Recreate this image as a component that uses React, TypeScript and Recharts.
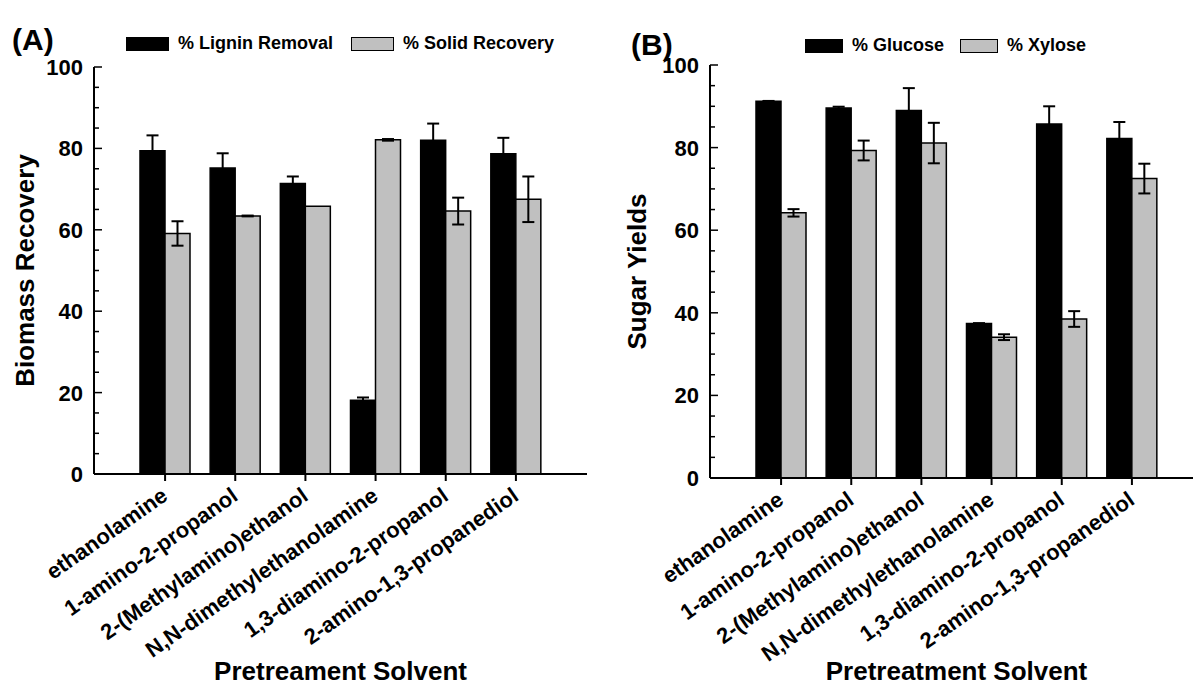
import React from 'react';
import {
  BarChart,
  Bar,
  XAxis,
  YAxis,
  ErrorBar,
  Legend,
} from 'recharts';

const solvents = [
  'ethanolamine',
  '1-amino-2-propanol',
  '2-(Methylamino)ethanol',
  'N,N-dimethylethanolamine',
  '1,3-diamino-2-propanol',
  '2-amino-1,3-propanediol',
];

// panel A
const ligninRemoval = [79.4, 75.2, 71.4, 18.1, 82.0, 78.7];
const ligninErr = [3.8, 3.6, 1.7, 0.7, 4.1, 3.9];
const solidRecovery = [59.1, 63.4, 65.8, 82.1, 64.6, 67.5];
const solidErr = [3.0, 0.1, 0, 0.2, 3.3, 5.6];

// panel B
const glucose = [91.2, 89.6, 89.0, 37.4, 85.7, 82.2];
const glucoseErr = [0.1, 0.3, 5.4, 0.1, 4.3, 4.0];
const xylose = [64.2, 79.3, 81.1, 34.1, 38.5, 72.5];
const xyloseErr = [0.9, 2.4, 4.9, 0.7, 1.9, 3.6];

const yTicks = [0, 5, 10, 15, 20, 25, 30, 35, 40, 45, 50, 55, 60, 65, 70, 75, 80, 85, 90, 95, 100];

const dataA = solvents.map((name, i) => ({
  name,
  lignin: ligninRemoval[i],
  ligninErr: ligninErr[i],
  solid: solidRecovery[i],
  solidErr: solidErr[i],
}));

const dataB = solvents.map((name, i) => ({
  name,
  glucose: glucose[i],
  glucoseErr: glucoseErr[i],
  xylose: xylose[i],
  xyloseErr: xyloseErr[i],
}));

const FONT = '"Liberation Sans", Arial, sans-serif';
const GREY = '#c0c0c0';

const YTick = (props: any) => {
  const { x, y, payload } = props;
  const major = payload.value % 20 === 0;
  return (
    <g>
      <line x1={x} x2={x + (major ? 8 : 5)} y1={y} y2={y} stroke="#000" strokeWidth={1.5} />
      {major && (
        <text x={x - 11} y={y} dy="0.36em" textAnchor="end" fontFamily={FONT} fontWeight="bold" fontSize={22} fill="#000">
          {payload.value}
        </text>
      )}
    </g>
  );
};

const XTick = (props: any) => {
  const { x, y, payload } = props;
  const ax = x + 4;
  const ay = y + 18;
  return (
    <text
      x={ax}
      y={ay}
      textAnchor="end"
      transform={`rotate(-35, ${ax}, ${ay})`}
      fontFamily={FONT}
      fontWeight="bold"
      fontSize={22}
      fill="#000"
    >
      {payload.value}
    </text>
  );
};

const makeLegend = (items: { label: string; color: string }[], swatchW: number, gap: number) => () => (
  <div style={{ display: 'flex', alignItems: 'center', fontFamily: FONT, fontWeight: 'bold', fontSize: 18, whiteSpace: 'nowrap' }}>
    {items.map((it, i) => (
      <div key={i} style={{ display: 'flex', alignItems: 'center', marginRight: gap }}>
        <div style={{ width: swatchW, height: 12, background: it.color, border: '1.5px solid #000', marginRight: 9 }} />
        <span>{it.label}</span>
      </div>
    ))}
  </div>
);

const legendA = makeLegend(
  [
    { label: '% Lignin Removal', color: '#000' },
    { label: '% Solid Recovery', color: GREY },
  ],
  41,
  18
);

const legendB = makeLegend(
  [
    { label: '% Glucose', color: '#000' },
    { label: '% Xylose', color: GREY },
  ],
  36,
  16
);

const axisLine = { stroke: '#000', strokeWidth: 2 };
const titleStyle = { fontFamily: FONT, fontWeight: 'bold', fontSize: 26, fill: '#000' };

const Panel = ({ data, keys, errs, yTitle, xTitle, width, top, bottomH, yWidth, yDx, legend, legendPos }: any) => (
  <BarChart
    width={width}
    height={688}
    data={data}
    margin={{ top, right: width - yWidth - 493, bottom: 0, left: 0 }}
    barGap={0}
    barSize={25}
  >
    <XAxis
      dataKey="name"
      interval={0}
      padding={{ left: 36, right: 36 }}
      height={bottomH}
      axisLine={axisLine}
      tickLine={{ stroke: '#000', strokeWidth: 2 }}
      tickSize={7}
      tickMargin={0}
      tick={<XTick />}
      label={{ value: xTitle, position: 'insideBottom', offset: 8, ...titleStyle }}
    />
    <XAxis xAxisId="top" orientation="top" height={0} tick={false} tickLine={false} axisLine={axisLine} />
    <YAxis
      domain={[0, 100]}
      ticks={yTicks}
      interval={0}
      width={yWidth}
      axisLine={axisLine}
      tickLine={false}
      tickSize={0}
      tickMargin={0}
      tick={<YTick />}
      label={{ value: yTitle, angle: -90, position: 'center', dx: yDx, ...titleStyle }}
    />
    <YAxis yAxisId="right" orientation="right" width={0} tick={false} tickLine={false} axisLine={axisLine} />
    <Legend
      layout="horizontal"
      verticalAlign="middle"
      align="center"
      content={legend}
      wrapperStyle={{ top: legendPos.top, left: legendPos.left, width: 'auto' }}
    />
    <Bar dataKey={keys[0]} fill="#000" stroke="#000" strokeWidth={1.5} isAnimationActive={false}>
      <ErrorBar dataKey={errs[0]} width={6} stroke="#000" strokeWidth={2} direction="y" />
    </Bar>
    <Bar dataKey={keys[1]} fill={GREY} stroke="#000" strokeWidth={1.5} isAnimationActive={false}>
      <ErrorBar dataKey={errs[1]} width={6} stroke="#000" strokeWidth={2} direction="y" />
    </Bar>
  </BarChart>
);

const panelLabel = { position: 'absolute' as const, fontFamily: FONT, fontWeight: 'bold' as const, fontSize: 30, color: '#000', lineHeight: 1 };

export default function App() {
  return (
    <div style={{ position: 'absolute', left: 0, top: 0, width: 1193, height: 688, overflow: 'hidden', background: '#fff' }}>
      <div style={{ position: 'absolute', left: 0, top: 0 }}>
        <Panel
          data={dataA}
          keys={['lignin', 'solid']}
          errs={['ligninErr', 'solidErr']}
          yTitle="Biomass Recovery"
          xTitle="Pretreament Solvent"
          width={600}
          top={67}
          bottomH={214}
          yWidth={94}
          yDx={-22}
          legend={legendA}
          legendPos={{ top: 33, left: 126 }}
        />
      </div>
      <div style={{ position: 'absolute', left: 600, top: 0 }}>
        <Panel
          data={dataB}
          keys={['glucose', 'xylose']}
          errs={['glucoseErr', 'xyloseErr']}
          yTitle="Sugar Yields"
          xTitle="Pretreatment Solvent"
          width={620}
          top={65}
          bottomH={210}
          yWidth={110}
          yDx={-18}
          legend={legendB}
          legendPos={{ top: 35, left: 205 }}
        />
      </div>
      <div style={{ ...panelLabel, left: 12, top: 25 }}>(A)</div>
      <div style={{ ...panelLabel, left: 631, top: 30 }}>(B)</div>
    </div>
  );
}
